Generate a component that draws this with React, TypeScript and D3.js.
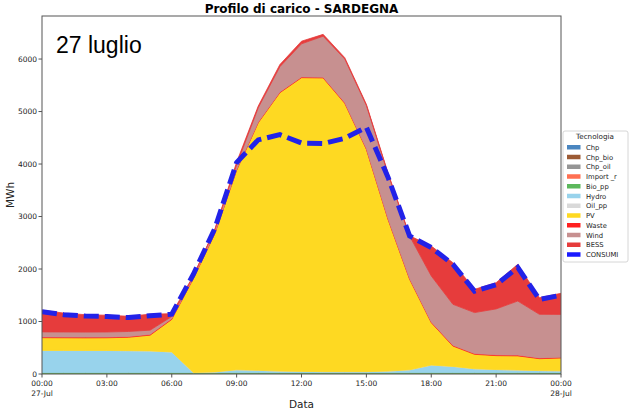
import React from "react";
import * as d3 from "d3";

const hours = [0, 1, 2, 3, 4, 5, 6, 7, 8, 9, 10, 11, 12, 13, 14, 15, 16, 17, 18, 19, 20, 21, 22, 23, 24];
const xTickHours = [0, 3, 6, 9, 12, 15, 18, 21, 24];
const xTickLabels = ["00:00", "03:00", "06:00", "09:00", "12:00", "15:00", "18:00", "21:00", "00:00"];
const xTickSub = ["27-Jul", "", "", "", "", "", "", "", "28-Jul"];
const yTicks = [0, 1000, 2000, 3000, 4000, 5000, 6000];

const chp = [5, 5, 5, 5, 5, 5, 5, 5, 5, 5, 5, 5, 5, 5, 5, 5, 5, 5, 5, 5, 5, 5, 5, 5, 5];
const chpBio = [5, 5, 5, 5, 5, 5, 5, 5, 5, 5, 5, 5, 5, 5, 5, 5, 5, 5, 5, 5, 5, 5, 5, 5, 5];
const chpOil = [0, 0, 0, 0, 0, 0, 0, 0, 0, 0, 0, 0, 0, 0, 0, 0, 0, 0, 0, 0, 0, 0, 0, 0, 0];
const importR = [0, 0, 0, 0, 0, 0, 0, 0, 0, 0, 0, 0, 0, 0, 0, 0, 0, 0, 0, 0, 0, 0, 0, 0, 0];
const bioPp = [18, 18, 18, 18, 18, 18, 18, 18, 18, 18, 18, 18, 18, 18, 18, 18, 18, 18, 18, 18, 18, 18, 18, 18, 18];
const hydro = [422, 422, 420, 420, 417, 412, 392, 0, 12, 52, 42, 27, 22, 17, 17, 17, 27, 52, 142, 117, 72, 57, 47, 37, 32];
const oilPp = [0, 0, 0, 0, 0, 0, 0, 0, 0, 0, 0, 0, 0, 0, 0, 0, 0, 0, 0, 0, 0, 0, 0, 0, 0];
const pv = [242, 240, 240, 242, 255, 300, 620, 1790, 2640, 3800, 4717, 5304, 5595, 5595, 5111, 4235, 2891, 1723, 808, 388, 275, 265, 270, 227, 245];
const waste = [15, 15, 15, 15, 15, 15, 15, 15, 15, 15, 15, 15, 15, 15, 15, 15, 15, 15, 15, 15, 15, 15, 15, 15, 15];
const wind = [95, 95, 95, 95, 95, 80, 40, 30, 60, 90, 270, 480, 630, 780, 830, 820, 850, 810, 875, 780, 780, 875, 1030, 830, 815];
const bess = [413, 360, 332, 320, 290, 305, 55, 10, 10, 50, 33, 41, 50, 35, 26, 22, 19, 5, 570, 793, 443, 500, 699, 317, 402];
const consumi = [1185, 1130, 1105, 1095, 1075, 1110, 1140, 1900, 2780, 4030, 4460, 4560, 4400, 4390, 4490, 4700, 3750, 2630, 2410, 2090, 1580, 1700, 2030, 1420, 1500];

const seriesNames = ["Chp", "Chp_bio", "Chp_oil", "Import _r", "Bio_pp", "Hydro", "Oil_pp", "PV", "Waste", "Wind", "BESS"];
const seriesValues = [chp, chpBio, chpOil, importR, bioPp, hydro, oilPp, pv, waste, wind, bess];
const seriesColors = ["#4a86c0", "#9c5a34", "#959595", "#ff7052", "#5cb85c", "#98d3ec", "#d9d9d9", "#fed922", "#ff2020", "#c79090", "#e63c3c"];
const consumiColor = "#2222e8";

const W = 630;
const H = 413;
const L = 42, R = 561, T = 16, B = 374;

export default function App() {
  const x = d3.scaleLinear().domain([0, 24]).range([L, R]);
  const y = d3.scaleLinear().domain([0, 6820]).range([B, T]);

  const table = hours.map((h, i) => {
    const row: Record<string, number> = { h };
    seriesNames.forEach((n, k) => (row[n] = seriesValues[k][i]));
    return row;
  });
  const stack = d3.stack<Record<string, number>>().keys(seriesNames)(table);
  const area = d3
    .area<any>()
    .x((d) => x(d.data.h))
    .y0((d) => y(d[0]))
    .y1((d) => y(d[1]));
  const line = d3
    .line<number>()
    .x((_, i) => x(hours[i]))
    .y((d) => y(d));

  const legendItems = [...seriesNames.map((n, i) => ({ n, c: seriesColors[i] })), { n: "CONSUMI", c: "#1a1aff" }];
  const font = "DejaVu Sans, sans-serif";

  return (
    <svg width={W} height={H} style={{ position: "absolute", left: 0, top: 0 }} fontFamily={font}>
      <rect x={0} y={0} width={W} height={H} fill="#fff" />
      <defs>
        <clipPath id="plot">
          <rect x={L} y={T} width={R - L} height={B - T} />
        </clipPath>
      </defs>
      <g clipPath="url(#plot)">
        {stack.map((s, i) => (
          <path key={s.key} d={area(s) || ""} fill={seriesColors[i]} stroke={seriesColors[i]} strokeWidth={0.8} />
        ))}
        <path d={line(consumi) || ""} fill="none" stroke={consumiColor} strokeWidth={5} strokeDasharray="15,6" />
      </g>
      <rect x={L} y={T} width={R - L} height={B - T} fill="none" stroke="#555" strokeWidth={1} />
      {yTicks.map((t) => (
        <g key={t}>
          <line x1={L - 3.5} x2={L} y1={y(t)} y2={y(t)} stroke="#555" />
          <text x={L - 5} y={y(t)} dy="0.35em" textAnchor="end" fontSize={7.5} fill="#222">
            {t}
          </text>
        </g>
      ))}
      {xTickHours.map((h, i) => (
        <g key={i}>
          <line x1={x(h)} x2={x(h)} y1={B} y2={B + 3.5} stroke="#555" />
          <text x={x(h)} y={B + 12} textAnchor="middle" fontSize={7.5} fill="#222">
            {xTickLabels[i]}
          </text>
          {xTickSub[i] && (
            <text x={x(h)} y={B + 22} textAnchor="middle" fontSize={7.5} fill="#222">
              {xTickSub[i]}
            </text>
          )}
        </g>
      ))}
      <text x={(L + R) / 2} y={13} textAnchor="middle" fontSize={12} fontWeight="bold" fill="#000">
        Profilo di carico - SARDEGNA
      </text>
      <text x={56} y={53} fontSize={23} fontFamily="Liberation Sans, Arial, sans-serif" fill="#000">
        27 luglio
      </text>
      <text x={(L + R) / 2} y={408} textAnchor="middle" fontSize={10.5} fill="#222">
        Data
      </text>
      <text transform={`translate(14,${(T + B) / 2}) rotate(-90)`} textAnchor="middle" fontSize={10.5} fill="#222">
        MWh
      </text>
      <g>
        <rect x={563} y={131} width={65} height={131} rx={2} fill="#fff" stroke="#ccc" strokeWidth={0.8} />
        <text x={595} y={139} textAnchor="middle" fontSize={7.2} fill="#222">
          Tecnologia
        </text>
        {legendItems.map((it, i) => (
          <g key={it.n}>
            <rect x={567} y={145 + i * 9.75} width={13.5} height={4.5} fill={it.c} />
            <text x={586} y={147.5 + i * 9.75} dy="0.35em" fontSize={6.8} fill="#222">
              {it.n}
            </text>
          </g>
        ))}
      </g>
    </svg>
  );
}
